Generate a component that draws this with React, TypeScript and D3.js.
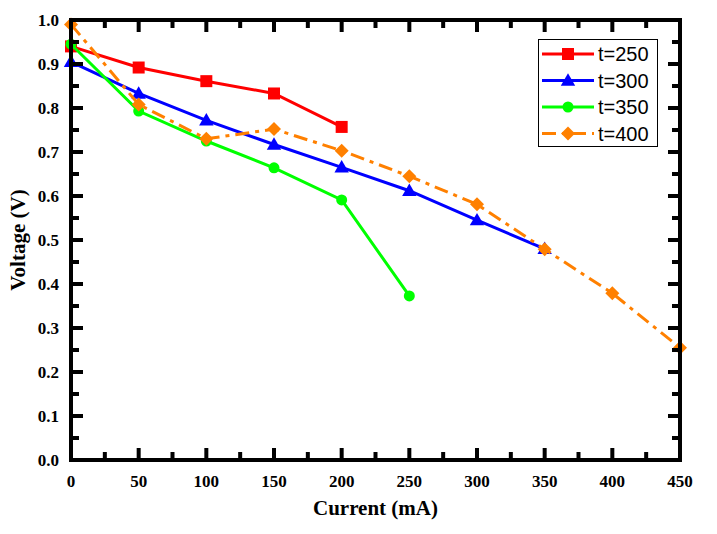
import React from "react";
import * as d3 from "d3";

const seriesNames = ["t=250", "t=300", "t=350", "t=400"];
const colors = ["#ff0000", "#0000ff", "#00ff00", "#ff8000"];
const markers = ["square", "triangle", "circle", "diamond"];
const x250 = [0, 50, 100, 150, 200];
const y250 = [0.94, 0.892, 0.861, 0.833, 0.757];
const x300 = [0, 50, 100, 150, 200, 250, 300, 350];
const y300 = [0.905, 0.833, 0.772, 0.717, 0.665, 0.612, 0.545, 0.48];
const x350 = [0, 50, 100, 150, 200, 250];
const y350 = [0.945, 0.793, 0.725, 0.664, 0.591, 0.373];
const x400 = [0, 50, 100, 150, 200, 250, 300, 350, 400, 450];
const y400 = [0.99, 0.808, 0.73, 0.752, 0.703, 0.645, 0.581, 0.479, 0.379, 0.255];
const xTicks = [0, 50, 100, 150, 200, 250, 300, 350, 400, 450];
const yTicks = [0.0, 0.1, 0.2, 0.3, 0.4, 0.5, 0.6, 0.7, 0.8, 0.9, 1.0];

const W = 717, H = 534;
const L = 71, R = 680, T = 20, B = 460;

function Marker({ type, x, y, color }: { type: string; x: number; y: number; color: string }) {
  if (type === "square") return <rect x={x - 6} y={y - 6} width={12} height={12} fill={color} />;
  if (type === "circle") return <circle cx={x} cy={y} r={5.5} fill={color} />;
  if (type === "triangle") {
    const p = d3.symbol().type(d3.symbolTriangle).size(90)();
    return <path d={p!} transform={`translate(${x},${y + 1})`} fill={color} />;
  }
  const s = 7;
  return <path d={`M${x},${y - s}L${x + s},${y}L${x},${y + s}L${x - s},${y}Z`} fill={color} />;
}

export default function App() {
  const xs = d3.scaleLinear().domain([0, 450]).range([L, R]);
  const ys = d3.scaleLinear().domain([0, 1]).range([B, T]);
  const data = [
    { xv: x250, yv: y250 },
    { xv: x300, yv: y300 },
    { xv: x350, yv: y350 },
    { xv: x400, yv: y400 },
  ];
  const line = d3.line<[number, number]>().x((d) => xs(d[0])).y((d) => ys(d[1]));
  const xMinor = d3.range(25, 450, 50);
  const yMinor = d3.range(0.05, 1.0, 0.1);
  const serif = "'Liberation Serif', 'Times New Roman', serif";
  const sans = "'Liberation Sans', Arial, sans-serif";
  const major = 12, minor = 8;

  return (
    <svg width={W} height={H} style={{ position: "absolute", left: 0, top: 0 }}>
      <rect width={W} height={H} fill="white" />
      {data.map((s, i) => {
        const pts = s.xv.map((x, j) => [x, s.yv[j]] as [number, number]);
        return (
          <g key={i}>
            <path d={line(pts)!} fill="none" stroke={colors[i]} strokeWidth={3}
              strokeDasharray={i === 3 ? "14,6,4,6" : undefined} />
            {pts.map((p, j) => (
              <Marker key={j} type={markers[i]} x={xs(p[0])} y={ys(p[1])} color={colors[i]} />
            ))}
          </g>
        );
      })}
      <rect x={L} y={T} width={R - L} height={B - T} fill="none" stroke="#000" strokeWidth={4} />
      {xTicks.map((t) => (
        <g key={"xt" + t}>
          <rect x={xs(t) - 2} y={B - major} width={4} height={major} fill="#000" />
          <rect x={xs(t) - 2} y={T} width={4} height={major} fill="#000" />
        </g>
      ))}
      {xMinor.map((t) => (
        <g key={"xm" + t}>
          <rect x={xs(t) - 2} y={B - minor} width={4} height={minor} fill="#000" />
          <rect x={xs(t) - 2} y={T} width={4} height={minor} fill="#000" />
        </g>
      ))}
      {yTicks.map((t) => (
        <g key={"yt" + t}>
          <rect x={L} y={ys(t) - 2} width={major} height={4} fill="#000" />
          <rect x={R - major} y={ys(t) - 2} width={major} height={4} fill="#000" />
        </g>
      ))}
      {yMinor.map((t) => (
        <g key={"ym" + t}>
          <rect x={L} y={ys(t) - 2} width={minor} height={4} fill="#000" />
          <rect x={R - minor} y={ys(t) - 2} width={minor} height={4} fill="#000" />
        </g>
      ))}
      {xTicks.map((t) => (
        <text key={"xl" + t} x={xs(t)} y={B + 27} textAnchor="middle" fontFamily={serif} fontWeight="bold" fontSize={17}>{t}</text>
      ))}
      {yTicks.map((t) => (
        <text key={"yl" + t} x={L - 12} y={ys(t) + 6} textAnchor="end" fontFamily={serif} fontWeight="bold" fontSize={17}>{t.toFixed(1)}</text>
      ))}
      <text x={(L + R) / 2} y={515} textAnchor="middle" fontFamily={serif} fontWeight="bold" fontSize={21}>Current (mA)</text>
      <text transform={`translate(25,${(T + B) / 2}) rotate(-90)`} textAnchor="middle" fontFamily={serif} fontWeight="bold" fontSize={21}>Voltage (V)</text>
      <rect x={538.5} y={39.5} width={119} height={107} fill="white" stroke="#000" strokeWidth={1} />
      {seriesNames.map((n, i) => {
        const ly = 54 + i * 26.5;
        return (
          <g key={n}>
            <line x1={542} x2={594} y1={ly} y2={ly} stroke={colors[i]} strokeWidth={3}
              strokeDasharray={i === 3 ? "14,6,4,6" : undefined} />
            <Marker type={markers[i]} x={568} y={ly} color={colors[i]} />
            <text x={598} y={ly + 7} fontFamily={sans} fontSize={20}>{n}</text>
          </g>
        );
      })}
    </svg>
  );
}
